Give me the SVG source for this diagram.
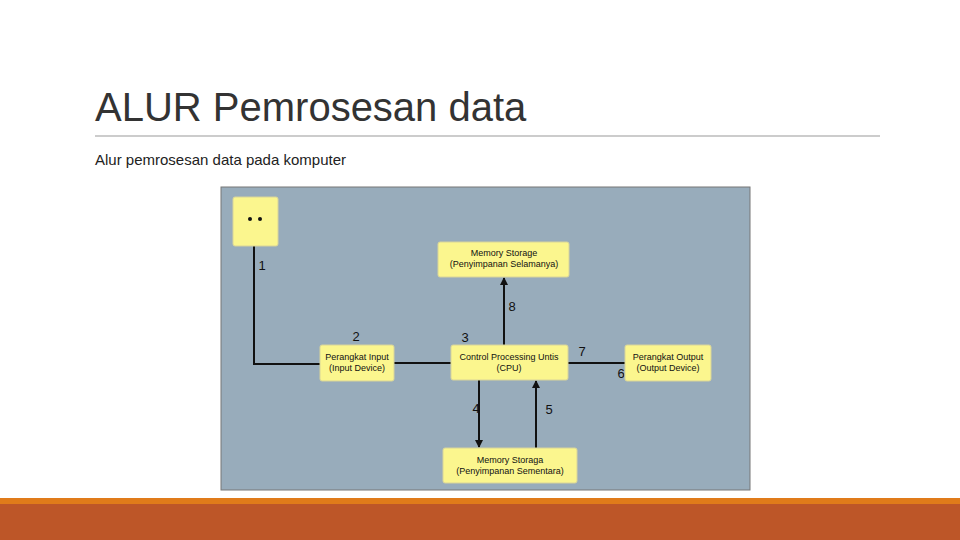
<svg xmlns="http://www.w3.org/2000/svg" width="960" height="540" viewBox="0 0 960 540">
<style>
.box{fill:#fbf68e;stroke:#d8d49a;stroke-width:1}
.t{font-family:"Liberation Sans",Arial,sans-serif;font-size:9px;fill:#111;text-anchor:middle}
.n{font-family:"Liberation Sans",Arial,sans-serif;font-size:13px;fill:#111;text-anchor:middle}
.c{stroke:#111;stroke-width:2;fill:none}
</style>
<defs><marker id="a" markerWidth="8" markerHeight="8" refX="7" refY="4" orient="auto" markerUnits="userSpaceOnUse"><path d="M0,0 L8,4 L0,8 Z" fill="#111"/></marker></defs>
<rect width="960" height="540" fill="#fff"/>
<text x="95" y="121" font-family="'Liberation Sans',Arial,sans-serif" font-size="40" fill="#333">ALUR Pemrosesan data</text>
<line x1="95" y1="136" x2="880" y2="136" stroke="#999" stroke-width="1"/>
<text x="95" y="165" font-family="'Liberation Sans',Arial,sans-serif" font-size="15" fill="#222">Alur pemrosesan data pada komputer</text>
<rect x="221" y="187" width="529" height="303" fill="#98acbb" stroke="#777"/>
<g id="connectors">
<polyline class="c" points="254,246 254,364 320,364"/>
<line class="c" x1="394" y1="363" x2="451" y2="363"/>
<line class="c" x1="568" y1="363" x2="625" y2="363"/>
<line class="c" x1="504" y1="345" x2="504" y2="278" marker-end="url(#a)"/>
<line class="c" x1="479" y1="380" x2="479" y2="447" marker-end="url(#a)"/>
<line class="c" x1="536" y1="448" x2="536" y2="381" marker-end="url(#a)"/>
<text class="n" x="262" y="270">1</text><text class="n" x="356" y="341">2</text>
<text class="n" x="465" y="342">3</text><text class="n" x="512" y="311">8</text>
<text class="n" x="582" y="356">7</text><text class="n" x="621" y="378">6</text>
<text class="n" x="476" y="413">4</text><text class="n" x="549" y="414">5</text>
</g>
<g id="user"><rect class="box" x="233" y="197" width="45" height="49" rx="2"/><circle cx="250" cy="219" r="2" fill="#111"/><circle cx="260" cy="219" r="2" fill="#111"/></g>
<g id="mem-top"><rect class="box" x="438" y="242" width="131" height="35" rx="2"/><text class="t" x="504" y="256">Memory Storage</text><text class="t" x="504" y="267">(Penyimpanan Selamanya)</text></g>
<g id="input"><rect class="box" x="320" y="345" width="74" height="36" rx="2"/><text class="t" x="357" y="360">Perangkat Input</text><text class="t" x="357" y="371">(Input Device)</text></g>
<g id="cpu"><rect class="box" x="451" y="345" width="117" height="35" rx="2"/><text class="t" x="509" y="360">Control Processing Untis</text><text class="t" x="509" y="371">(CPU)</text></g>
<g id="output"><rect class="box" x="625" y="345" width="86" height="36" rx="2"/><text class="t" x="668" y="360">Perangkat Output</text><text class="t" x="668" y="371">(Output Device)</text></g>
<g id="mem-bottom"><rect class="box" x="443" y="448" width="134" height="35" rx="2"/><text class="t" x="510" y="463">Memory Storaga</text><text class="t" x="510" y="474">(Penyimpanan Sementara)</text></g>
<rect x="0" y="498" width="960" height="6" fill="#e07b1a"/>
<rect x="0" y="504" width="960" height="36" fill="#bd5628"/>
</svg>
